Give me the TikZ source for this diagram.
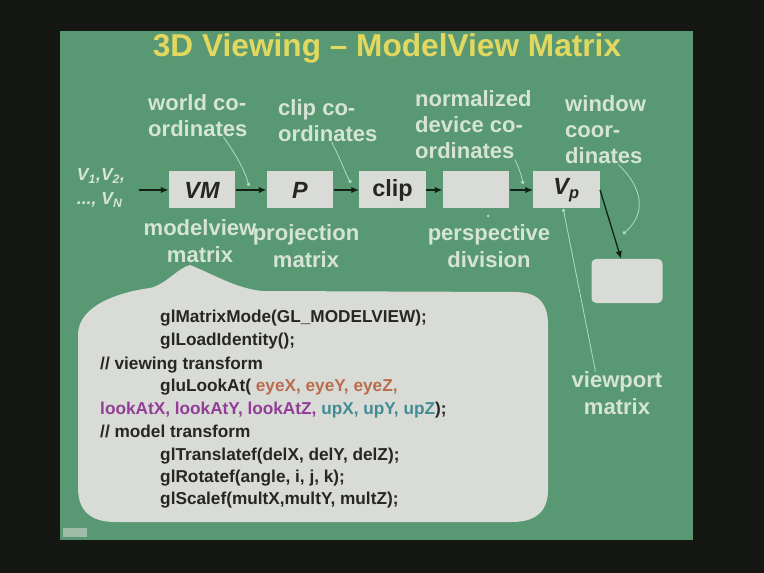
\documentclass[tikz,border=0pt]{standalone}
\usepackage{fontspec}
\setmainfont{Liberation Sans}
\usetikzlibrary{arrows.meta}
\definecolor{frame}{RGB}{20,23,18}
\definecolor{slide}{RGB}{88,152,114}
\definecolor{headline}{RGB}{226,216,96}
\definecolor{chalk}{RGB}{214,228,214}
\definecolor{panel}{RGB}{216,219,214}
\definecolor{ink}{RGB}{38,38,36}
\definecolor{arrowink}{RGB}{18,32,22}
\definecolor{pointer}{RGB}{172,220,190}
\definecolor{eyecol}{RGB}{186,108,78}
\definecolor{atcol}{RGB}{146,62,150}
\definecolor{upcol}{RGB}{66,140,150}
\tikzset{
  stage/.style={fill=panel, minimum width=2cm, minimum height=1.11cm, inner sep=0pt, text=ink, font=\fontsize{20}{22}\selectfont\bfseries},
  tag/.style={text=chalk, inner sep=0pt, font=\fontsize{18.8}{22.5}\selectfont\bfseries},
  toptag/.style={tag, align=left, anchor=north west},
  lowtag/.style={tag, align=center},
  flow/.style={draw=arrowink, line width=1.1pt, -{Latex[length=6.5pt,width=5.5pt]}},
  hint/.style={draw=pointer, line width=0.7pt, -{Circle[length=3pt]}},
  codeline/.style={anchor=base west, inner sep=0pt, text=ink, font=\fontsize{14.7}{19}\selectfont\bfseries}
}
\begin{document}
\begin{tikzpicture}[x=0.03cm, y=-0.03cm]
\useasboundingbox (0,0) rectangle (764,573);
\fill[frame] (0,0) rectangle (764,573);
\fill[slide] (60,31) rectangle (693,540);
\fill[panel!55!slide] (63,528) rectangle (87,537);
\node[text=headline, font=\fontsize{27}{30}\selectfont\bfseries] (title) at (387,48) {3D Viewing -- ModelView Matrix};
\node[toptag] (world) at (148,94) {world co-\\ordinates};
\node[toptag] (clipc) at (278,99) {clip co-\\ordinates};
\node[toptag] (ndcc) at (415,90) {normalized\\device co-\\ordinates};
\node[toptag] (winc) at (565,95) {window\\coor-\\dinates};
\node[text=chalk, inner sep=0pt, align=left, font=\fontsize{15}{20}\selectfont\bfseries\itshape] (verts) at (101,188) {V\textsubscript{1},V\textsubscript{2},\\..., V\textsubscript{N}};
\node[stage] (vm) at (202,190) {\itshape VM};
\node[stage] (proj) at (300,190) {\itshape P};
\node[stage] (clip) at (392.5,190) {clip};
\node[stage] (ndc) at (476,190) {};
\node[stage] (vp) at (566.5,190) {\itshape V\textsubscript{p}};
\node[stage, rounded corners=4pt, minimum width=2.13cm, minimum height=1.32cm] (win) at (627,281) {};
\node[lowtag] (mvm) at (200,241) {modelview\\matrix};
\node[lowtag] (prm) at (306,246) {projection\\matrix};
\node[lowtag] (pdiv) at (489,246) {perspective\\division};
\node[lowtag] (vpm) at (617,393) {viewport\\matrix};
\coordinate (src) at (139,190);
\coordinate (wpt) at (249,186);
\coordinate (cpt) at (351,183);
\coordinate (npt) at (523,184);
\coordinate (winpt) at (623,234);
\draw[flow] (src) -- (vm);
\draw[flow] (vm) -- (proj);
\draw[flow] (proj) -- (clip);
\draw[flow] (clip) -- (ndc);
\draw[flow] (ndc) -- (vp);
\draw[flow] (vp.east) -- (win.105);
\draw[hint] (world.-40) .. controls (240,160) and (246,175) .. (wpt);
\draw[hint] (clipc.-80) .. controls (341,160) and (346,175) .. (cpt);
\draw[hint] (ndcc.-40) .. controls (520,170) and (522,178) .. (npt);
\draw[hint] (winc.-70) .. controls (645,190) and (645,215) .. (winpt);
\draw[hint, {Circle[length=3pt]}-] (vp.-100) -- (vpm.135);
\fill[pointer] (488,216) circle (1.5);
\fill[panel] (190,265) .. controls (215,275) and (235,288) .. (262,291)
  -- (515,292) .. controls (540,292) and (548,305) .. (548,325)
  -- (548,490) .. controls (548,512) and (535,522) .. (512,522)
  -- (115,522) .. controls (90,522) and (78,510) .. (78,488)
  -- (78,335) .. controls (78,305) and (120,292) .. (150,288)
  .. controls (165,285) and (178,268) .. (190,265) -- cycle;
\foreach \n/\x/\y/\txt in {
  1/160/323/{glMatrixMode(GL\_MODELVIEW);},
  2/160/346/{glLoadIdentity();},
  3/100/369/{// viewing transform},
  4/160/391/{gluLookAt( \textcolor{eyecol}{eyeX, eyeY, eyeZ,}},
  5/100/414/{\textcolor{atcol}{lookAtX, lookAtY, lookAtZ,} \textcolor{upcol}{upX, upY, upZ});},
  6/100/437/{// model transform},
  7/160/460/{glTranslatef(delX, delY, delZ);},
  8/160/482/{glRotatef(angle, i, j, k);},
  9/160/504/{glScalef(multX,multY, multZ);}}
  \node[codeline] (code\n) at (\x,\y) {\txt};
\end{tikzpicture}
\end{document}
